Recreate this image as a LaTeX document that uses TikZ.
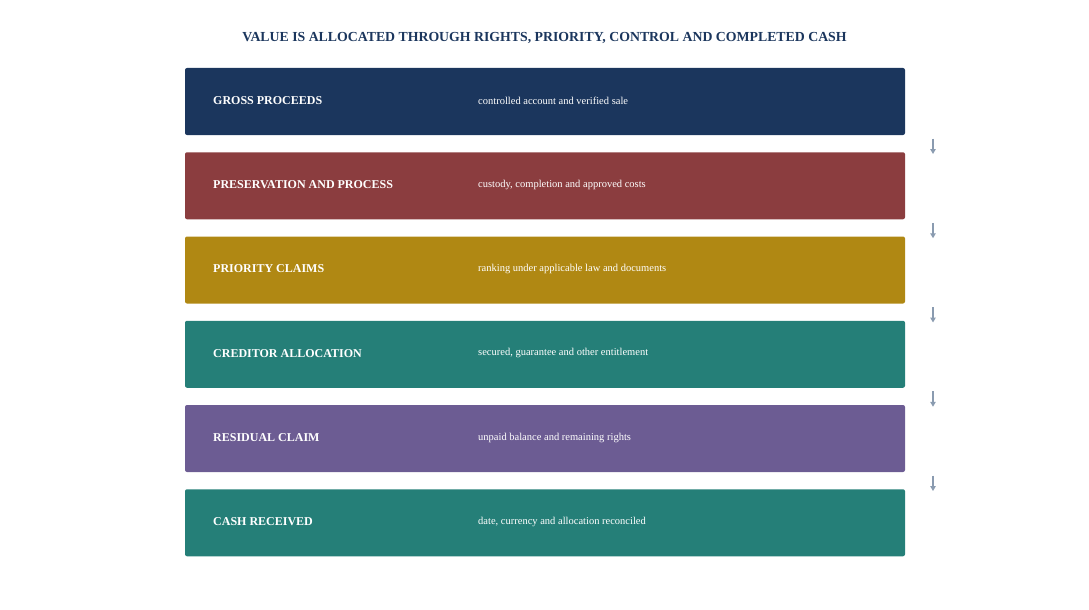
\documentclass[tikz,border=0pt]{standalone}
\usepackage{fontspec}
\setmainfont{Liberation Serif}
\usetikzlibrary{positioning, arrows.meta}
\definecolor{navy}{HTML}{1B365D}
\definecolor{wine}{HTML}{8B3D3F}
\definecolor{ochre}{HTML}{B08813}
\definecolor{teal}{HTML}{257F78}
\definecolor{plum}{HTML}{6C5C93}
\definecolor{arrowgray}{HTML}{8A9BB0}
\begin{document}
\begin{tikzpicture}[x=1pt, y=-1pt,
    StageBar/.style={fill=#1, draw=none, rounded corners=2pt, minimum width=720pt,
                minimum height=67pt, anchor=north west, inner sep=0pt, outer sep=0pt},
    StageLabel/.style={text=white, font=\bfseries\fontsize{12}{14}\selectfont, anchor=west, inner sep=0pt},
    StageNote/.style={text=white, font=\fontsize{10.5}{12}\selectfont, anchor=west, inner sep=0pt},
    FlowArrow/.style={draw=arrowgray, line width=1.1pt, -{Triangle[width=5.5pt,length=5pt]}},
  ]
\useasboundingbox (0,0) rectangle (1089,610);

\node[text=navy, font=\bfseries\fontsize{13.8}{16}\selectfont] (title) at (544.5,37.5)
  {VALUE IS ALLOCATED THROUGH RIGHTS, PRIORITY, CONTROL AND COMPLETED CASH};

\node[StageBar=navy] (b1) at (185,68) {};
\node[StageBar=wine, below=17.25pt of b1.south west, anchor=north west] (b2) {};
\node[StageBar=ochre, below=17.25pt of b2.south west, anchor=north west] (b3) {};
\node[StageBar=teal, below=17.25pt of b3.south west, anchor=north west] (b4) {};
\node[StageBar=plum, below=17.25pt of b4.south west, anchor=north west] (b5) {};
\node[StageBar=teal, below=17.25pt of b5.south west, anchor=north west] (b6) {};

\foreach \n/\lbl/\note in {
  1/GROSS PROCEEDS/controlled account and verified sale,
  2/PRESERVATION AND PROCESS/{custody, completion and approved costs},
  3/PRIORITY CLAIMS/ranking under applicable law and documents,
  4/CREDITOR ALLOCATION/{secured, guarantee and other entitlement},
  5/RESIDUAL CLAIM/unpaid balance and remaining rights,
  6/CASH RECEIVED/{date, currency and allocation reconciled}}
{
  \node[StageLabel] (l\n) at ([xshift=28pt,yshift=1pt]b\n.west) {\lbl};
  \node[StageNote] (d\n) at ([xshift=293pt,yshift=1pt]b\n.west) {\note};
}

\foreach \n in {1,...,5}
  \draw[FlowArrow] ([xshift=28pt,yshift=-3.5pt]b\n.south east) -- ++(0,15.5);
\end{tikzpicture}
\end{document}
